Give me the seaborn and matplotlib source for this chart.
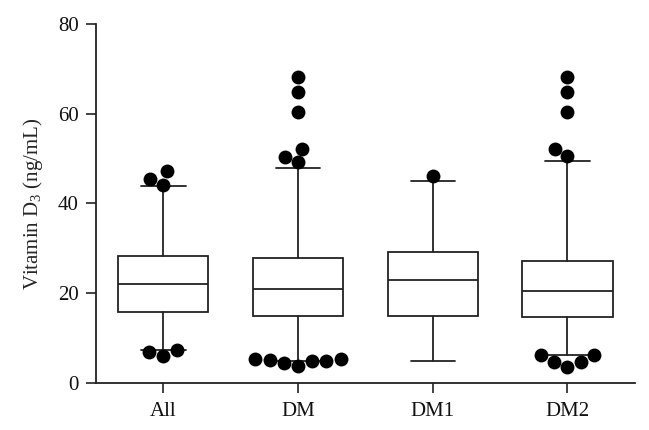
import numpy as np
import pandas as pd
import matplotlib
matplotlib.use("Agg")
import matplotlib.pyplot as plt
import seaborn as sns

# Groups and box summaries
groups = ["All", "DM", "DM1", "DM2"]
whisker_low = [7.3, 5.0, 5.0, 6.3]
q1 = [15.9, 15.0, 15.0, 14.8]
median = [22.0, 20.9, 22.9, 20.6]
q3 = [28.3, 27.8, 29.1, 27.2]
whisker_high = [43.9, 47.8, 44.9, 49.4]

# Individual points outside the whiskers
outliers_all = [45.4, 44.1, 47.1, 7.3, 6.1, 7.0]
outliers_dm = [68.2, 64.8, 60.4, 52.1, 50.4, 49.1, 5.3, 5.0, 4.9, 3.8, 5.3, 4.4, 5.2]
outliers_dm1 = [46.1]
outliers_dm2 = [68.2, 64.8, 60.4, 52.1, 50.6, 4.7, 6.2, 3.6, 6.2, 4.7]

sns.set_style("ticks")
plt.rcParams["font.family"] = ["Liberation Serif", "DejaVu Serif"]
plt.rcParams["mathtext.fontset"] = "custom"
plt.rcParams["mathtext.rm"] = "Liberation Serif"
plt.rcParams["mathtext.it"] = "Liberation Serif:italic"

fig = plt.figure(figsize=(6.49, 4.30), dpi=100)
ax = fig.add_axes([0.148, 0.109, 0.830, 0.836])

stats = []
for i, g in enumerate(groups):
    stats.append(dict(label=g, whislo=whisker_low[i], q1=q1[i], med=median[i],
                      q3=q3[i], whishi=whisker_high[i], fliers=[]))

line_kw = dict(color="#222222", linewidth=1.3)
ax.bxp(stats, positions=range(len(groups)), widths=0.67, capwidths=0.33,
       showfliers=False, patch_artist=True,
       boxprops=dict(facecolor="white", edgecolor="#222222", linewidth=1.3),
       medianprops=line_kw, whiskerprops=line_kw, capprops=line_kw)

pts = pd.DataFrame({
    "group": ["All"] * len(outliers_all) + ["DM"] * len(outliers_dm)
             + ["DM1"] * len(outliers_dm1) + ["DM2"] * len(outliers_dm2),
    "value": outliers_all + outliers_dm + outliers_dm1 + outliers_dm2,
})
sns.swarmplot(data=pts, x="group", y="value", order=groups, color="black",
              size=10, ax=ax, zorder=5)

ax.set_xlim(-0.5, 3.5)
ax.set_ylim(0, 80)
ax.set_yticks([0, 20, 40, 60, 80])
ax.set_xticks(range(len(groups)))
ax.set_xticklabels(groups)
ax.set_xlabel("")
ax.set_ylabel("Vitamin D$_3$ (ng/mL)", fontsize=15, labelpad=9)
ax.tick_params(axis="both", direction="out", length=7.5, width=1.2,
               labelsize=15, color="#222222", labelcolor="#111111")
ax.tick_params(axis="y", pad=5)
ax.tick_params(axis="x", pad=6)
for s in ["left", "bottom"]:
    ax.spines[s].set_linewidth(1.3)
    ax.spines[s].set_color("#222222")
sns.despine(ax=ax)

fig.savefig("out.png", dpi=100)
